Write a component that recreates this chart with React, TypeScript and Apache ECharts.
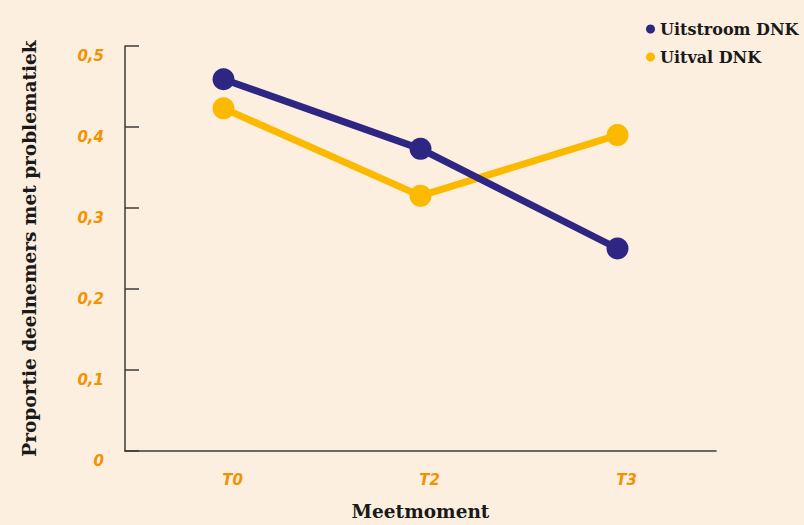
import React, { useEffect, useRef } from "react";
import * as echarts from "echarts";

const categories = ["T0", "T2", "T3"];
const uitstroom = [0.459, 0.373, 0.25];
const uitval = [0.423, 0.315, 0.39];
const yTicks = [0, 0.1, 0.2, 0.3, 0.4, 0.5];

const BLUE = "#2e2683";
const YELLOW = "#fbb900";
const ORANGE = "#f39200";
const AXIS = "#3b3b3b";
const SLAB = "'DejaVu Serif', serif";

export default function App() {
  const ref = useRef<HTMLDivElement>(null);
  useEffect(() => {
    if (!ref.current) return;
    const chart = echarts.init(ref.current, undefined, { renderer: "svg" });
    chart.setOption({
      animation: false,
      backgroundColor: "#fdefdf",
      legend: {
        orient: "vertical",
        left: 641,
        top: 16,
        itemGap: 12,
        itemWidth: 9,
        itemHeight: 9,
        icon: "circle",
        textStyle: { fontFamily: SLAB, fontWeight: "bold", fontSize: 16, color: "#1a1a1a" },
        data: ["Uitstroom DNK", "Uitval DNK"],
      },
      grid: { left: 125, right: 88, top: 46, bottom: 74, outerBoundsMode: "none", containLabel: false },
      xAxis: {
        type: "category",
        data: categories,
        name: "Meetmoment",
        nameLocation: "middle",
        nameGap: 51,
        nameTextStyle: { fontFamily: SLAB, fontWeight: "bold", fontSize: 18.5, color: "#1a1a1a" },
        axisLine: { lineStyle: { color: AXIS, width: 1.5 } },
        axisTick: { alignWithLabel: true, inside: true, length: 15, lineStyle: { color: AXIS, width: 1.5 } },
        axisLabel: {
          margin: 21,
          padding: [0, 0, 0, 18],
          color: ORANGE,
          fontStyle: "italic",
          fontWeight: "bold",
          fontSize: 15,
          fontFamily: "'DejaVu Sans', sans-serif",
        },
      },
      yAxis: {
        type: "value",
        min: 0,
        max: 0.5,
        interval: 0.1,
        name: "Proportie deelnemers met problematiek",
        nameLocation: "middle",
        nameGap: 86,
        nameTextStyle: { fontFamily: SLAB, fontWeight: "bold", fontSize: 18.5, color: "#1a1a1a" },
        splitLine: { show: false },
        axisLine: { show: true, lineStyle: { color: AXIS, width: 1.5 } },
        axisTick: { show: true, inside: true, length: 14, lineStyle: { color: AXIS, width: 1.5 } },
        axisLabel: {
          margin: 21,
          verticalAlign: "top",
          padding: [2, 0, 0, 0],
          color: ORANGE,
          fontStyle: "italic",
          fontWeight: "bold",
          fontSize: 15,
          fontFamily: "'DejaVu Sans', sans-serif",
          formatter: (v: number) => {
            const t = yTicks.find((x) => Math.abs(x - v) < 1e-9);
            return t === 0 ? "0" : String(Number(v.toFixed(1))).replace(".", ",");
          },
        },
      },
      series: [
        {
          name: "Uitstroom DNK",
          type: "line",
          data: uitstroom,
          color: BLUE,
          symbol: "circle",
          symbolSize: 22,
          lineStyle: { width: 7, color: BLUE },
          itemStyle: { color: BLUE },
        },
        {
          name: "Uitval DNK",
          type: "line",
          data: uitval,
          color: YELLOW,
          symbol: "circle",
          symbolSize: 22,
          lineStyle: { width: 7, color: YELLOW },
          itemStyle: { color: YELLOW },
          z: 1,
        },
      ],
    });
    return () => chart.dispose();
  }, []);
  return <div ref={ref} style={{ width: 804, height: 525, position: "fixed", left: 0, top: 0 }} />;
}
